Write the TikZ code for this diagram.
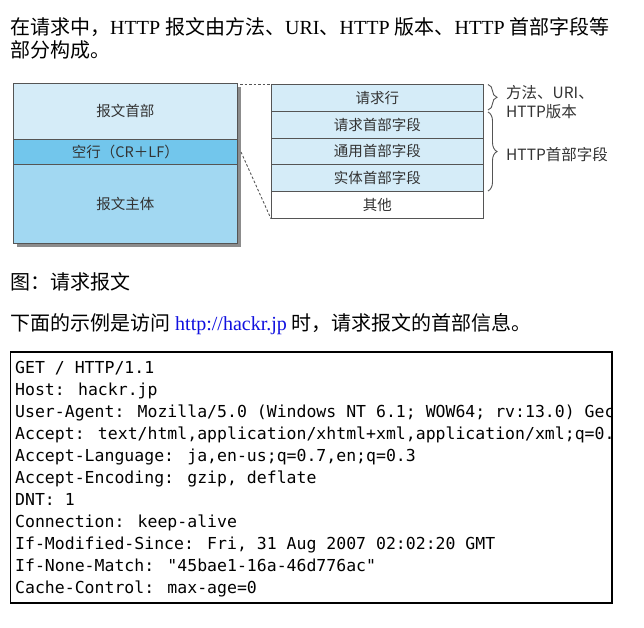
\documentclass[tikz,border=0pt]{standalone}
\usepackage{fontspec}
\setmainfont{Liberation Serif}
\newfontfamily\cjk{Noto Sans CJK SC}
\newfontfamily\codefont{DejaVu Sans Mono}
\usetikzlibrary{decorations.pathreplacing}
\definecolor{hdr}{HTML}{D5ECF8}
\definecolor{blankrow}{HTML}{72C6EC}
\definecolor{bodyrow}{HTML}{A2D8F2}
\definecolor{edge}{HTML}{555555}
\definecolor{shadowc}{HTML}{8C8C8C}
\definecolor{txt}{HTML}{333333}
\definecolor{link}{HTML}{1010E0}
\tikzset{
  para/.style={anchor=base west, inner sep=0pt, font=\fontsize{20}{24}\selectfont, text=black},
  cell/.style={draw=edge, line width=0.8pt, inner sep=0pt, anchor=north west, text=txt, font=\cjk\fontsize{14.5}{17}\selectfont},
  lcell/.style={cell, minimum width=224pt},
  rcell/.style={cell, minimum width=212pt, minimum height=26.8pt},
  note/.style={anchor=west, inner sep=0pt, text=txt, font=\cjk\fontsize{15.5}{18}\selectfont},
  dashline/.style={draw=edge, line width=0.9pt, dash pattern=on 2.5pt off 2pt},
  bracestyle/.style={draw=edge, line width=0.9pt, decorate, decoration={brace, amplitude=9pt}},
  codeline/.style={anchor=base west, inner sep=0pt, font=\codefont\fontsize{16.5}{20}\selectfont, text=black}
}
\begin{document}
\begin{tikzpicture}[x=1pt,y=-1pt]
\useasboundingbox (0,0) rectangle (644,627);
\fill[white] (0,0) rectangle (644,627);

% intro text
\node[para] (t1) at (10,34) {{\cjk 在请求中，}HTTP {\cjk 报文由方法、}URI{\cjk 、}HTTP {\cjk 版本、}HTTP {\cjk 首部字段等}};
\node[para] (t2) at (10,57) {{\cjk 部分构成。}};

% left box with shadow
\fill[shadowc] (17,87) rectangle (241,247);
\node[lcell, fill=hdr, minimum height=56pt] (hd) at (13,83) {报文首部};
\node[lcell, fill=blankrow, minimum height=25pt] (bl) at (13,139) {空行（CR＋LF）};
\node[lcell, fill=bodyrow, minimum height=79pt] (bd) at (13,164) {报文主体};

% right stack
\node[rcell, fill=hdr] (r1) at (271,84) {请求行};
\node[rcell, fill=hdr] (r2) at (271,110.8) {请求首部字段};
\node[rcell, fill=hdr] (r3) at (271,137.6) {通用首部字段};
\node[rcell, fill=hdr] (r4) at (271,164.4) {实体首部字段};
\node[rcell, fill=white] (r5) at (271,191.2) {其他};

% dashed connectors
\coordinate (dA) at (240,84);
\coordinate (dB) at (241,152);
\draw[dashline] (dA) -- (r1.north west);
\draw[dashline] (dB) -- (r5.south west);

% braces
\coordinate (b1s) at (488,84.5);
\coordinate (b1e) at (488,110);
\coordinate (b2s) at (488,112);
\coordinate (b2e) at (488,191);
\draw[bracestyle] (b1s) -- (b1e);
\draw[bracestyle] (b2s) -- (b2e);
\node[note] (n1) at (506,93) {方法、URI、};
\node[note] (n2) at (506,112) {HTTP版本};
\node[note] (n3) at (506,155) {HTTP首部字段};

% caption and lead-in
\node[para] (cap) at (10,289) {{\cjk 图：请求报文}};
\node[para] (lead) at (10,330) {{\cjk 下面的示例是访问} \textcolor{link}{http://hackr.jp} {\cjk 时，请求报文的首部信息。}};

% code box
\coordinate (cnw) at (10.5,352);
\coordinate (cse) at (612,603);
\begin{scope}
\clip (cnw) rectangle (cse);
\node[codeline] (c1) at (15,373) {GET / HTTP/1.1};
\node[codeline] (c2) at (15,395) {Host: hackr.jp};
\node[codeline] (c3) at (15,417) {User-Agent: Mozilla/5.0 (Windows NT 6.1; WOW64; rv:13.0) Gec};
\node[codeline] (c4) at (15,439) {Accept: text/html,application/xhtml+xml,application/xml;q=0.};
\node[codeline] (c5) at (15,461) {Accept-Language: ja,en-us;q=0.7,en;q=0.3};
\node[codeline] (c6) at (15,483) {Accept-Encoding: gzip, deflate};
\node[codeline] (c7) at (15,505) {DNT: 1};
\node[codeline] (c8) at (15,527) {Connection: keep-alive};
\node[codeline] (c9) at (15,549) {If-Modified-Since: Fri, 31 Aug 2007 02:02:20 GMT};
\node[codeline] (c10) at (15,571) {If-None-Match: "45bae1-16a-46d776ac"};
\node[codeline] (c11) at (15,593) {Cache-Control: max-age=0};
\end{scope}
\draw[line width=1.2pt, black] (cnw) rectangle (cse);
\end{tikzpicture}
\end{document}
